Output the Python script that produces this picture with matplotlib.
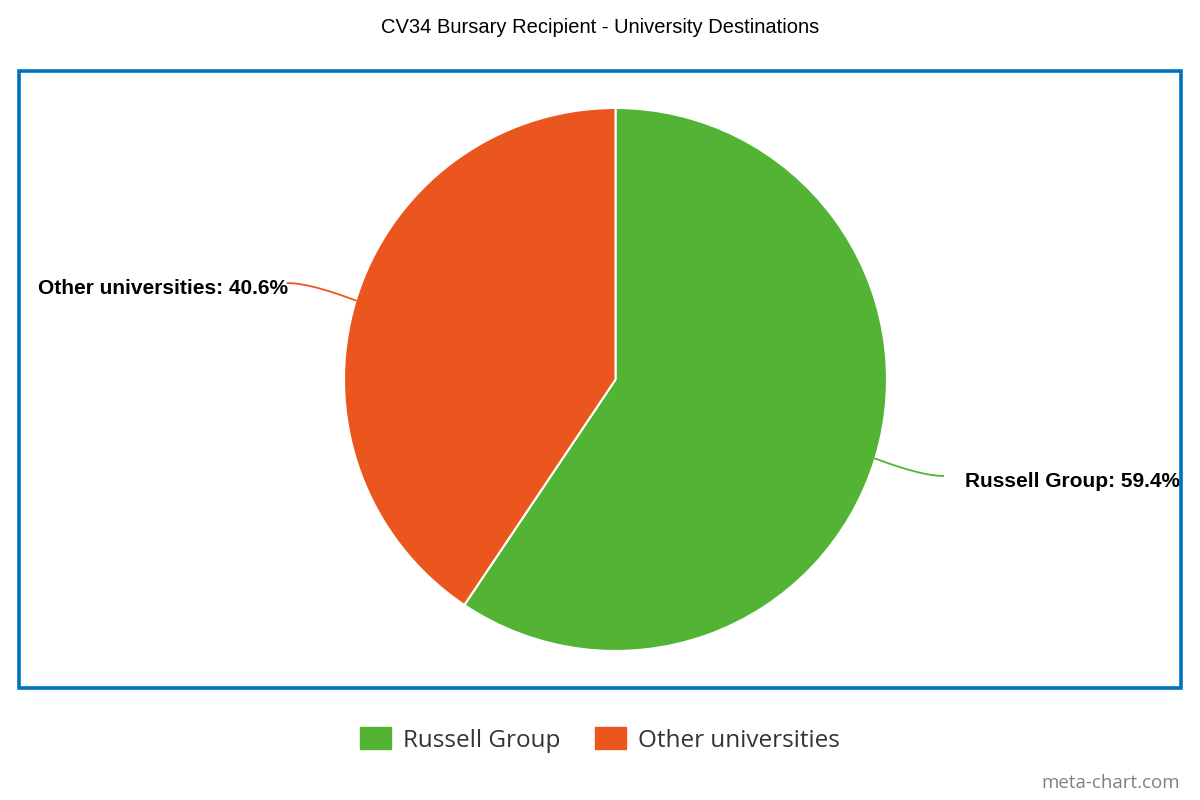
import numpy as np
import matplotlib.pyplot as plt
from matplotlib.patches import Rectangle, Patch

# data
categories = ['Russell Group', 'Other universities']
shares = [59.4, 40.6]
colors = ['#52B334', '#EB561E']

W, H = 1200, 800
fig = plt.figure(figsize=(12, 8), dpi=100)

# blue frame around the plot area
fig.patches.append(Rectangle((19 / W, 1 - 688 / H), 1162 / W, 617 / H,
                             transform=fig.transFigure, fill=False,
                             edgecolor='#0070C0', linewidth=2.6))

# pie axes: centre (615.5, 379.5), radius 271.5 px
cx, cy, r = 615.5, 379.5, 271.5
ax = fig.add_axes([(cx - r) / W, 1 - (cy + r) / H, 2 * r / W, 2 * r / H])
wedges, _ = ax.pie(shares, colors=colors, startangle=90, counterclock=False,
                   radius=1, wedgeprops=dict(edgecolor='white', linewidth=1.5))
ax.set_xlim(-1, 1)
ax.set_ylim(-1, 1)
ax.set_aspect('equal')
ax.axis('off')

# data labels with curved connectors
for w, name, val, col in zip(wedges, categories, shares, colors):
    mid = np.deg2rad((w.theta1 + w.theta2) / 2)
    x0, y0 = np.cos(mid), np.sin(mid)
    side = 1 if x0 > 0 else -1
    x1, y1 = x0 + side * 0.25, y0 * 1.22
    t = np.linspace(0, 1, 30)
    # quadratic curve, flattening at the end
    xm, ym = x0 + side * 0.17, y1
    px = (1 - t) ** 2 * x0 + 2 * (1 - t) * t * xm + t ** 2 * x1
    py = (1 - t) ** 2 * y0 + 2 * (1 - t) * t * ym + t ** 2 * y1
    ax.plot(px, py, color=col, lw=1.3, clip_on=False)
    tx = x1 + side * 0.08 if side > 0 else x1
    ax.text(tx, y1 - 0.02, f'{name}: {val}%', ha='left' if side > 0 else 'right',
            va='center', fontsize=15, fontweight='bold', family='Liberation Sans',
            color='black', clip_on=False)

fig.text(0.5, 1 - 27.5 / H, 'CV34 Bursary Recipient - University Destinations',
         ha='center', va='center', fontsize=14.5, family='Liberation Sans', color='black')

handles = [Patch(facecolor=c, edgecolor=c) for c in colors]
fig.legend(handles, categories, loc='center', bbox_to_anchor=(0.5, 1 - 740 / H),
           ncol=2, frameon=False, prop={'family': 'Open Sans', 'size': 17.5},
           labelcolor='#333333', handlelength=1.27, handleheight=1.0,
           columnspacing=1.4, handletextpad=0.5)

fig.text(1180 / W, 1 - 783 / H, 'meta-chart.com', ha='right', va='center',
         fontsize=13.5, family='Open Sans', color='#808080')

fig.savefig('out.png', dpi=100, facecolor='white')
